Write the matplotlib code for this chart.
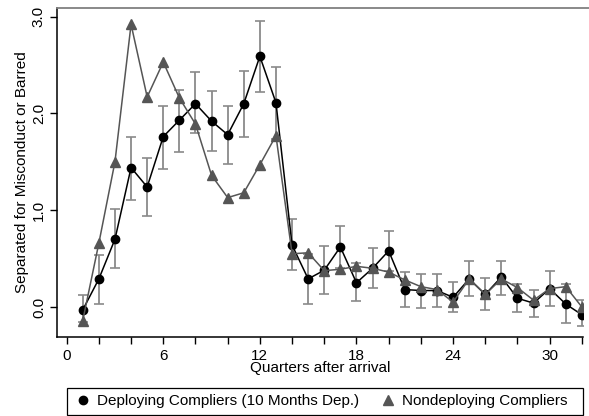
import matplotlib
matplotlib.use("Agg")
import matplotlib.pyplot as plt
from matplotlib.lines import Line2D
from matplotlib.patches import Rectangle

plt.rcParams["font.family"] = ["Liberation Sans", "DejaVu Sans"]
FS = 11

quarters = list(range(1, 33))

# deploying compliers: point estimate and 95% interval
deploy = [-0.03, 0.29, 0.70, 1.44, 1.24, 1.76, 1.93, 2.10, 1.92, 1.78, 2.10, 2.59,
          2.11, 0.64, 0.29, 0.38, 0.62, 0.25, 0.40, 0.58, 0.18, 0.17, 0.17, 0.10,
          0.29, 0.13, 0.31, 0.09, 0.04, 0.19, 0.03, -0.08]
deploy_hi = [0.12, 0.54, 1.01, 1.76, 1.54, 2.08, 2.24, 2.43, 2.23, 2.08, 2.44, 2.95,
             2.48, 0.91, 0.55, 0.63, 0.84, 0.45, 0.61, 0.79, 0.36, 0.34, 0.34, 0.26,
             0.47, 0.30, 0.48, 0.24, 0.18, 0.37, 0.24, 0.07]
deploy_lo = [-0.16, 0.03, 0.40, 1.11, 0.94, 1.43, 1.60, 1.80, 1.61, 1.48, 1.76, 2.22,
             1.74, 0.38, 0.03, 0.13, 0.40, 0.06, 0.20, 0.37, 0.00, -0.01, 0.00, -0.05,
             0.11, -0.03, 0.12, -0.05, -0.10, 0.01, -0.17, -0.20]

# nondeploying compliers
nondeploy = [-0.14, 0.66, 1.50, 2.92, 2.17, 2.53, 2.16, 1.89, 1.36, 1.13, 1.18, 1.47,
             1.77, 0.55, 0.56, 0.375, 0.39, 0.42, 0.40, 0.36, 0.28, 0.21, 0.18, 0.05,
             0.29, 0.13, 0.29, 0.20, 0.07, 0.19, 0.21, 0.00]

fig = plt.figure(figsize=(5.89, 4.16), dpi=100)
ax = fig.add_axes([57 / 589, 1 - 336.7 / 416, 526 / 589, 328.7 / 416])

yerr = [[d - lo for d, lo in zip(deploy, deploy_lo)],
        [hi - d for d, hi in zip(deploy, deploy_hi)]]
ax.errorbar(quarters, deploy, yerr=yerr, fmt="none", ecolor="#8a8a8a",
            elinewidth=1.3, capsize=3.5, capthick=1.2, zorder=2)
ax.plot(quarters, deploy, color="black", lw=1.1, marker="o", ms=6,
        mfc="black", mec="black", zorder=3)
ax.plot(quarters, nondeploy, color="#555555", lw=1.1, marker="^", ms=7,
        mfc="#555555", mec="#555555", zorder=4)

ax.set_xlim(-0.6, 32.07)
ax.set_ylim(-0.307, 3.089)
ax.set_xticks(range(0, 33, 6))
ax.set_xticks(range(0, 33, 2), minor=True)
ax.set_yticks([0, 1, 2, 3])
ax.set_yticklabels(["0.0", "1.0", "2.0", "3.0"], rotation=90, va="center")
ax.tick_params(axis="both", which="both", direction="out", length=5,
               width=1, labelsize=FS, color="black")
ax.tick_params(axis="x", which="minor", labelbottom=False)
ax.tick_params(axis="y", pad=3)

ax.spines["right"].set_visible(False)
ax.spines["top"].set_visible(False)
ax.spines["left"].set_linewidth(1.1)
ax.spines["bottom"].set_linewidth(1.1)

ax.set_xlabel("Quarters after arrival", fontsize=FS, labelpad=-1)
ax.set_ylabel("Separated for Misconduct or Barred", fontsize=FS, labelpad=2)

# gray frame line along the top of the graph region
fig.add_artist(Line2D([57 / 589, 1.0], [1 - 8 / 416, 1 - 8 / 416],
                      color="#808080", lw=1.3))

# legend box along the bottom
fig.add_artist(Rectangle((67 / 589, 1 / 416), 516 / 589, 27 / 416,
                         transform=fig.transFigure, fill=False,
                         edgecolor="black", lw=0.9))
handles = [
    Line2D([], [], ls="none", marker="o", ms=6, color="black"),
    Line2D([], [], ls="none", marker="^", ms=7, color="#555555"),
]
fig.legend(handles, ["Deploying Compliers (10 Months Dep.)", "Nondeploying Compliers"],
           loc="center", bbox_to_anchor=(322 / 589, 14.5 / 416),
           ncol=2, frameon=False, fontsize=FS, handlelength=0.8,
           handletextpad=0.5, columnspacing=1.5, borderaxespad=0)

fig.savefig("out.png", dpi=100)
